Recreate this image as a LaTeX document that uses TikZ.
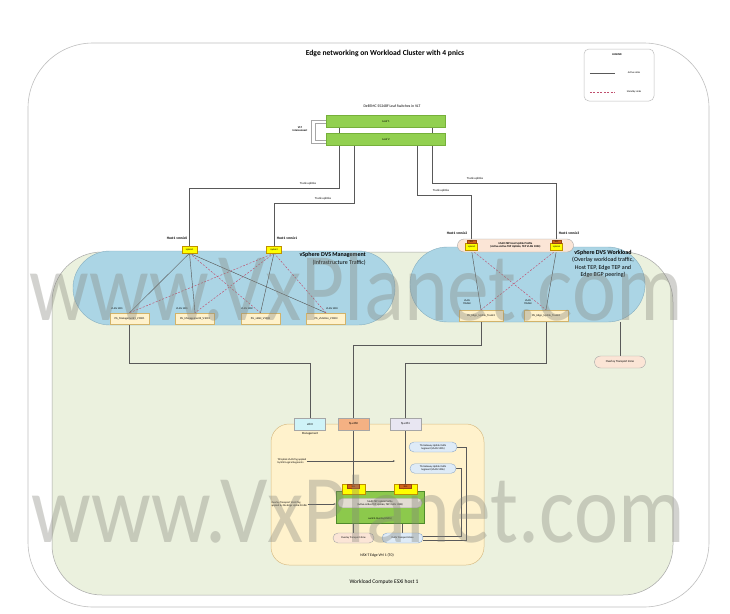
\documentclass[tikz,border=0pt]{standalone}
\usepackage{fontspec}
\setmainfont{Carlito}
\usepackage{graphicx}
\usetikzlibrary{shapes.misc,arrows.meta}
\pgfdeclarelayer{bg}
\pgfdeclarelayer{lines}
\pgfdeclarelayer{top}
\pgfsetlayers{bg,lines,main,top}
\definecolor{outerdraw}{HTML}{BFBFBF}
\definecolor{hostfill}{HTML}{EBF1DE}
\definecolor{hostdraw}{HTML}{A6A6A6}
\definecolor{dvsfill}{HTML}{ABD5E5}
\definecolor{dvsdraw}{HTML}{86AFC0}
\definecolor{pgfill}{HTML}{FFF2CC}
\definecolor{pgdraw}{HTML}{D2B36A}
\definecolor{leafgreen}{HTML}{92D050}
\definecolor{leafdraw}{HTML}{76B03A}
\definecolor{upfill}{HTML}{FFFF00}
\definecolor{updraw}{HTML}{BF9000}
\definecolor{tabfill}{HTML}{D0651A}
\definecolor{tabdraw}{HTML}{9A4510}
\definecolor{tepfill}{HTML}{FBE5D6}
\definecolor{edgefill}{HTML}{FFF2CC}
\definecolor{edgedraw}{HTML}{D8BD86}
\definecolor{ethfill}{HTML}{CFF3F8}
\definecolor{fpzfill}{HTML}{F4B183}
\definecolor{fpofill}{HTML}{E8E6F2}
\definecolor{tzbfill}{HTML}{DEEBF7}
\definecolor{tzbdraw}{HTML}{8EA9C8}
\definecolor{tepgreen}{HTML}{8CC94C}
\definecolor{tepgdraw}{HTML}{4F8A2C}
\definecolor{graypill}{HTML}{E2DCD2}
\definecolor{linec}{HTML}{595959}
\definecolor{stbyc}{HTML}{C0506E}
\definecolor{wmc}{HTML}{85857C}
\tikzset{
  lnk/.style={draw=linec, line width=0.45pt},
  sby/.style={draw=stbyc, line width=0.45pt, dash pattern=on 2pt off 1.5pt},
  vlt/.style={draw=hostdraw, line width=0.5pt},
  fa/.style={font=\fontsize{2.6}{3.1}\selectfont, inner sep=0.3pt},
  fb/.style={font=\fontsize{3}{3.6}\selectfont, inner sep=0.3pt},
  fbb/.style={font=\bfseries\fontsize{3.6}{4.2}\selectfont, inner sep=0.3pt},
  pgbox/.style={rectangle, fill=pgfill, draw=pgdraw, line width=0.4pt, minimum width=39pt, minimum height=11pt, inner sep=0pt, font=\fontsize{2.8}{3.2}\selectfont},
  upbox/.style={rectangle, fill=upfill, draw=updraw, line width=0.4pt, minimum width=15pt, minimum height=7pt, inner sep=0pt, font=\fontsize{2.4}{2.8}\selectfont},
  tabbox/.style={rectangle, fill=tabfill, draw=tabdraw, line width=0.3pt, minimum width=9pt, minimum height=3.5pt, inner sep=0pt, font=\fontsize{2}{2.2}\selectfont},
  leafbox/.style={rectangle, fill=leafgreen, draw=leafdraw, line width=0.4pt, minimum width=119pt, minimum height=12pt, inner sep=0pt, font=\fontsize{3}{3.6}\selectfont},
  ethbox/.style={rectangle, draw=hostdraw, line width=0.4pt, minimum width=31pt, minimum height=12pt, inner sep=0pt, font=\fontsize{3}{3.6}\selectfont},
  tzpill/.style={rounded rectangle, draw=hostdraw, line width=0.4pt, minimum width=41pt, minimum height=10pt, inner sep=0pt, font=\fontsize{2.6}{3.1}\selectfont},
  tzblue/.style={tzpill, fill=tzbfill, draw=tzbdraw},
  tzpink/.style={tzpill, fill=tepfill},
  wmark/.style={anchor=base west, inner sep=0pt, text=wmc, opacity=0.36, font=\fontsize{97}{97}\selectfont},
  arr/.style={lnk, -{Stealth[length=2.2pt,width=1.8pt]}}
}
\begin{document}
\begin{tikzpicture}[x=1pt,y=-1pt]
\useasboundingbox (0,0) rectangle (730,613);
\begin{pgfonlayer}{bg}
  \fill[white] (0,0) rectangle (730,613);
  \draw[draw=outerdraw, line width=0.6pt, fill=white, rounded corners=65pt] (28,43) rectangle (709,607);
  \draw[draw=hostdraw, line width=0.5pt, fill=hostfill, rounded corners=50pt] (52,252) rectangle (673,595);
  \node[rounded rectangle, fill=dvsfill, draw=dvsdraw, line width=0.4pt, minimum width=322pt, minimum height=74pt, inner sep=0pt] (lpill) at (234,288) {};
  \node[rounded rectangle, fill=dvsfill, draw=dvsdraw, line width=0.4pt, minimum width=235pt, minimum height=75pt, inner sep=0pt] (rpill) at (527.5,284.5) {};
  \node[rectangle, fill=edgefill, draw=edgedraw, line width=0.5pt, rounded corners=18pt, minimum width=213pt, minimum height=141pt, inner sep=0pt] (edgevm) at (377.5,494.5) {};
\end{pgfonlayer}

% ---------- title and legend ----------
\node[font=\bfseries\fontsize{7.6}{9}\selectfont, inner sep=0pt] (title) at (385,53) {Edge networking on Workload Cluster with 4 pnics};
\node[rectangle, draw=outerdraw, line width=0.5pt, rounded corners=5pt, fill=white, minimum width=70pt, minimum height=52pt] (legend) at (619,75) {};
\node[font=\bfseries\fontsize{2.8}{3.2}\selectfont, inner sep=0pt] (legt) at (617,55) {LEGEND};
\node[fa] (lega) at (634,73) {Active Links};
\node[fa] (legs) at (634,92) {Standby Links};
\draw[lnk] ([xshift=6pt]legend.west |- lega.west) -- ++(25,0);
\draw[sby] ([xshift=6pt]legend.west |- legs.west) -- ++(25,0);

% ---------- leaf switches ----------
\node[font=\fontsize{3.8}{4.4}\selectfont, inner sep=0pt] (leaflbl) at (392,106) {DellEMC S5248F Leaf Switches in VLT};
\node[leafbox] (leaf1) at (386,121) {Leaf 1};
\node[leafbox] (leaf2) at (386,139) {Leaf 2};
\draw[vlt] ([yshift=1pt]leaf1.west) -- ++(-15.5,0) |- ([yshift=-4pt]leaf2.west);
\draw[vlt] ([yshift=-2pt]leaf1.west) -- ++(-11.5,0) |- ([yshift=-1pt]leaf2.west);
\node[font=\bfseries\fontsize{2.8}{3.3}\selectfont, align=center, inner sep=0pt] (vltlbl) at (300,129) {VLT\\Interconnect};

% ---------- host uplinks ----------
\node[fbb] (h0) at (177,238) {Host1 vmnic0};
\node[fbb] (h1) at (287,238) {Host1 vmnic1};
\node[fbb] (h2) at (457,233) {Host1 vmnic2};
\node[fbb] (h3) at (569,233) {Host1 vmnic3};
\node[upbox] (u1) at (189.5,249.5) {Uplink1};
\node[upbox] (u2) at (274,249.5) {Uplink2};

\node[rounded rectangle, fill=tepfill, draw=hostdraw, line width=0.4pt, minimum width=116pt, minimum height=13pt, inner sep=0pt, align=center, font=\bfseries\fontsize{2.8}{3.3}\selectfont] (mtep) at (515.5,245.5) {Multi-TEP Host Uplink Profile\\(Active-Active TEP Uplinks, TEP VLAN 1004)};
\node[upbox, minimum width=12pt, minimum height=6.5pt] (u3) at (471.5,246.5) {\raisebox{-1pt}{Uplink3}};
\node[tabbox] (u3tab) at (471.5,241.5) {TEP1};
\node[upbox, minimum width=12pt, minimum height=6.5pt] (u4) at (556.5,246.5) {\raisebox{-1pt}{Uplink4}};
\node[tabbox] (u4tab) at (556.5,241.5) {TEP2};

% trunk uplink labels
\node[fb] (tl1) at (308,184) {Trunk uplinks};
\node[fb] (tl2) at (323,199) {Trunk uplinks};
\node[fb] (tl3) at (441,191) {Trunk uplinks};
\node[fb] (tl4) at (475,179) {Trunk uplinks};

% ---------- management DVS ----------
\node[font=\fontsize{6}{7.3}\selectfont, align=right, anchor=east, inner sep=0pt] (lptext) at (366,258.7) {\textbf{vSphere DVS Management}\\(Infrastructure Traffic)};
\node[pgbox] (pg1) at (129.5,318.5) {PG\_Management1\_V1001};
\node[pgbox] (pg2) at (195,318.5) {PG\_Management2\_V1001};
\node[pgbox] (pg3) at (260.5,318.5) {PG\_vSAN\_V1002};
\node[pgbox] (pg4) at (326,318.5) {PG\_vMotion\_V1003};
\node[fa] (v1) at (117,308.5) {VLAN 1001};
\node[fa] (v2) at (182,308.5) {VLAN 1001};
\node[fa] (v3) at (247,308.5) {VLAN 1002};
\node[fa] (v4) at (332,308.5) {VLAN 1003};

% ---------- workload DVS ----------
\node[font=\fontsize{6}{7.3}\selectfont, align=center, inner sep=0pt] (rptext) at (603,264) {\textbf{vSphere DVS Workload}\\(Overlay workload traffic,\\Host TEP, Edge TEP and\\Edge BGP peering)};
\node[pgbox, minimum width=44pt] (pg5) at (481,315.5) {PG\_Edge\_Uplink\_Trunk1};
\node[pgbox, minimum width=44pt] (pg6) at (546,315.5) {PG\_Edge\_Uplink\_Trunk2};
\node[fa, align=center] (v5) at (467,302) {VLAN\\TRUNK};
\node[fa, align=center] (v6) at (528,302) {VLAN\\TRUNK};
\node[tzpink, minimum width=51pt, minimum height=12pt, font=\fontsize{3}{3.6}\selectfont] (otzh) at (620,362) {Overlay Transport Zone};

% ---------- Edge VM ----------
\node[ethbox, fill=ethfill] (eth0) at (310,424) {eth0};
\node[ethbox, fill=fpzfill] (fp0) at (353.5,424) {fp-eth0};
\node[ethbox, fill=fpofill] (fp1) at (405.5,424) {fp-eth1};
\node[fb] (mgmt) at (310,434) {Management};
\node[tzblue, minimum width=48pt, align=center] (t01) at (433,447) {T0-Gateway Uplink VLAN\\Segment (VLAN 1005)};
\node[tzblue, minimum width=46pt, minimum height=9.5pt, align=center] (t02) at (433,468.5) {T0-Gateway Uplink VLAN\\Segment (VLAN 1006)};
\node[fa, align=left, anchor=west] (note1) at (277,461) {T0 Uplink VLAN Tag applied\\by NSX Logical Segments};
\node[fa, align=left, anchor=west] (note2) at (271,504) {Overlay Transport VLAN Tag\\applied by the Edge Uplink Profile};
\coordinate (a1end) at (395,461);
\node[rectangle, fill=tepgreen, draw=tepgdraw, line width=0.5pt, minimum width=88pt, minimum height=32pt, inner sep=0pt] (tepsw) at (380,507) {};
\node[rounded rectangle, fill=graypill, draw=hostdraw, line width=0.3pt, minimum width=84pt, minimum height=9.5pt, inner sep=0pt, align=center, font=\fontsize{2.6}{3.1}\selectfont] (mtepe) at (380,503) {Multi-TEP Uplink Profile\\(Active-Active TEP Uplinks, TEP VLAN 1008)};
\node[fa] (swl) at (380,519) {switch-Overlay(NVDS)};
\node[upbox, minimum width=23pt, minimum height=10pt] (eu1) at (353.5,489) {\raisebox{-2pt}{Uplink1}};
\node[tabbox, minimum width=12pt, minimum height=4pt] (eu1tab) at (353.5,486.5) {TEP1};
\node[upbox, minimum width=23pt, minimum height=10pt] (eu2) at (405.5,489) {\raisebox{-2pt}{Uplink2}};
\node[tabbox, minimum width=12pt, minimum height=4pt] (eu2tab) at (405.5,486.5) {TEP2};
\node[tzpink] (otze) at (353.5,538) {Overlay Transport Zone};
\node[tzblue] (vlantz) at (402.5,538) {VLAN Transport Zone};
\node[font=\fontsize{3.8}{4.4}\selectfont, inner sep=0pt] (nsxl) at (377,555) {NSX-T Edge VM 1 (T0)};
\node[font=\fontsize{5.5}{6.5}\selectfont, inner sep=0pt] (wkl) at (384,582) {Workload Compute ESXi host 1};

% ---------- connectors ----------
\begin{pgfonlayer}{lines}
  \draw[lnk] ([xshift=13pt]leaf1.south west) -- ++(0,61) -| (u1.north);
  \draw[lnk] ([xshift=28pt]leaf2.south west) -- ++(0,58) -| (u2.north);
  \draw[lnk] ([xshift=-28pt]leaf2.south east) -- ++(0,50) -| (u3tab.north);
  \draw[lnk] ([xshift=-13pt]leaf1.south east) -- ++(0,56) -| (u4tab.north);
  % management DVS teaming
  \draw[lnk] (u1.south) -- (pg1.north);
  \draw[lnk] (u1.south) -- (pg2.north);
  \draw[sby] (u1.south) -- (pg3.north);
  \draw[lnk] (u1.south) -- (pg4.north);
  \draw[sby] (u2.south) -- (pg1.north);
  \draw[sby] (u2.south) -- (pg2.north);
  \draw[lnk] (u2.south) -- (pg3.north);
  \draw[sby] (u2.south) -- (pg4.north);
  % workload DVS teaming
  \draw[lnk] (u3.south) -- (pg5.north);
  \draw[lnk] (u4.south) -- (pg6.north);
  \draw[sby] (u3.south) -- (pg6.north);
  \draw[sby] (u4.south) -- (pg5.north);
  % to the edge VM
  \draw[lnk] (pg1.south) -- (pg1.south |- 0,363) -| (eth0.north);
  \draw[lnk] (pg5.south) -- (pg5.south |- 0,345) -| (fp0.north);
  \draw[lnk] (pg6.south) -- (pg6.south |- 0,363) -| (fp1.north);
  \draw[lnk] (otzh.north) -- (otzh.north |- rpill.south);
  % inside the edge VM
  \draw[lnk] (fp0.south) -- (eu1tab.north);
  \draw[lnk] (fp1.south) -- (eu2tab.north);
  \draw[lnk] (otze.north) -- (otze.north |- tepsw.south);
  \draw[lnk] (vlantz.north) -- (vlantz.north |- tepsw.south);
  \draw[lnk] (t01.east) -- ++(9,0) |- ([yshift=-2pt]vlantz.east);
  \draw[lnk] (t02.east) -- ++(5,0) |- ([yshift=1.5pt]vlantz.east);
  \draw[arr] (note1.east) -- (note1.east -| a1end);
  \draw[arr] (note2.east) -- (note2.east -| tepsw.west);
\end{pgfonlayer}

% ---------- watermark ----------
\begin{pgfonlayer}{top}
  \node[wmark] (wm1) at (29,320) {\scalebox{0.86}[1]{www.VxPlanet.com}};
  \node[wmark] (wm2) at (31,542) {\scalebox{0.86}[1]{www.VxPlanet.com}};
\end{pgfonlayer}
\end{tikzpicture}
\end{document}
